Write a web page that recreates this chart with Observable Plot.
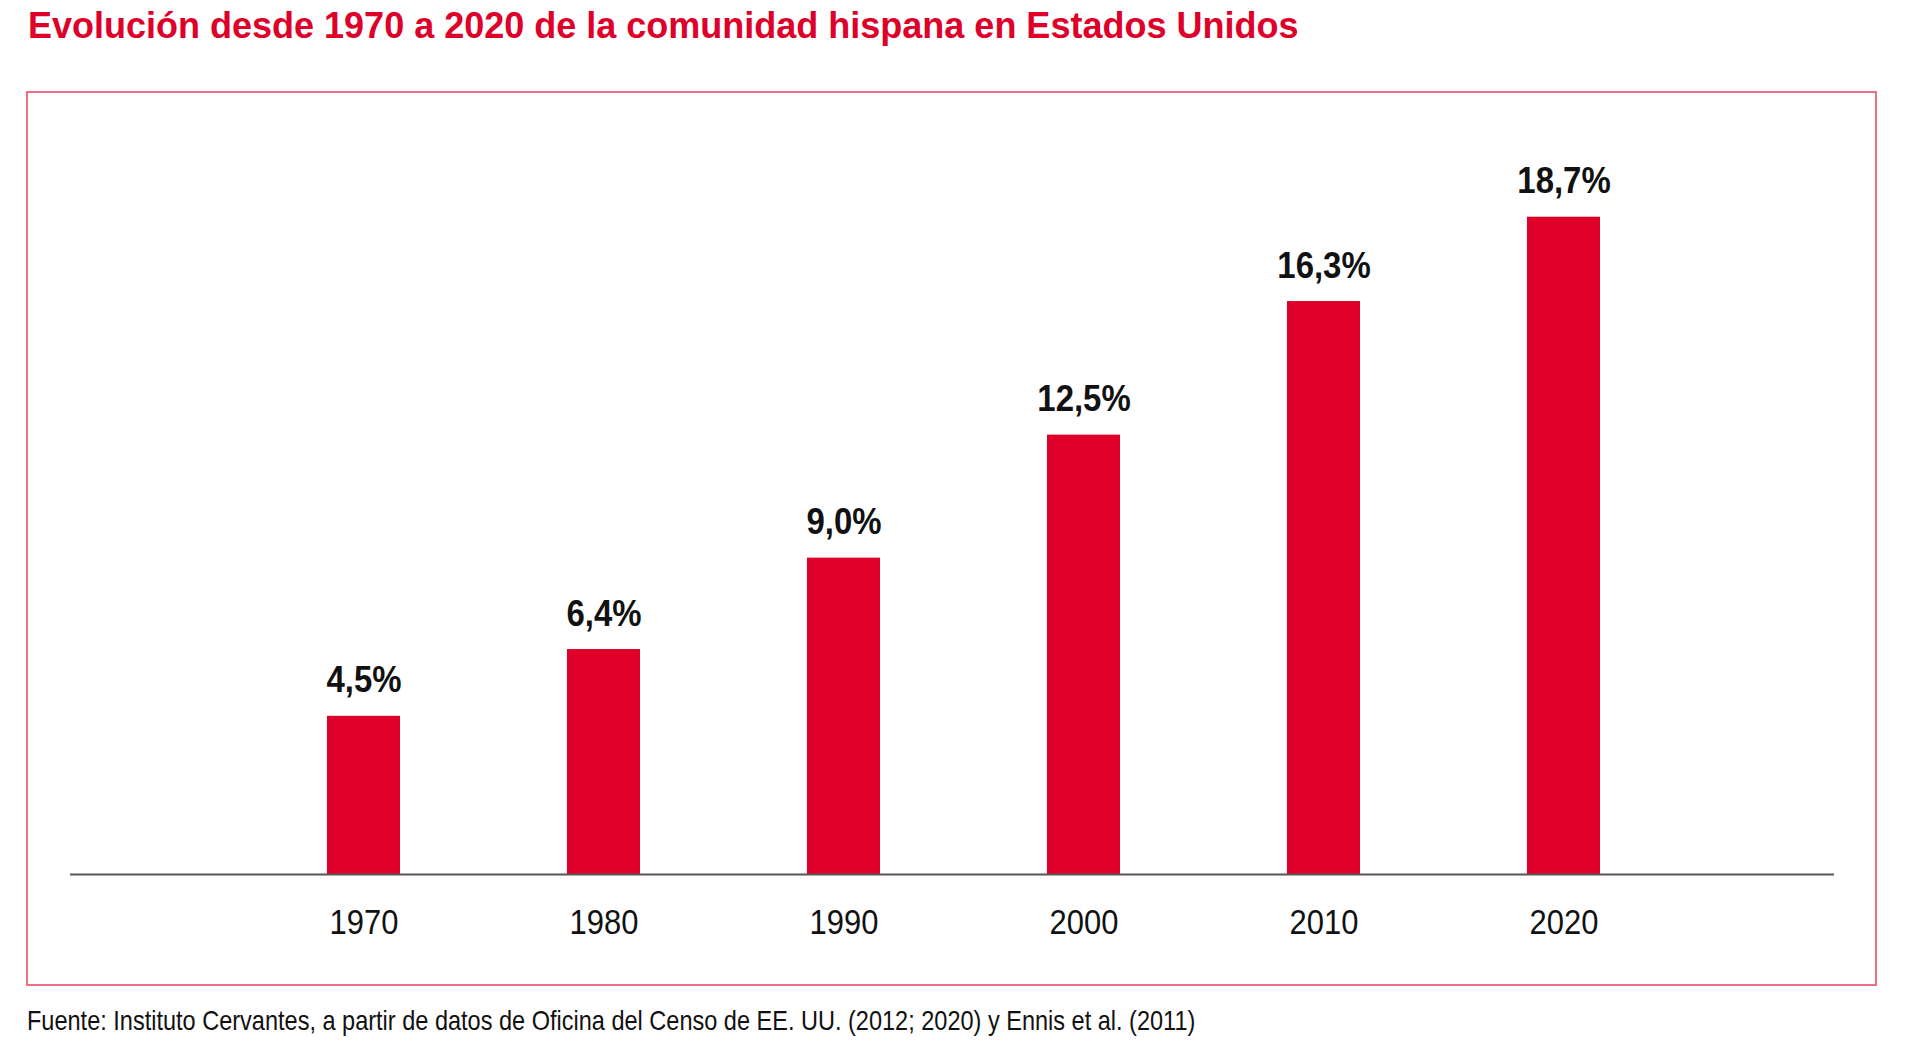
<!DOCTYPE html>
<html lang="es">
<head>
<meta charset="utf-8">
<title>Evolución de la comunidad hispana en Estados Unidos</title>
<script src="https://cdn.jsdelivr.net/npm/d3@7"></script>
<script src="https://cdn.jsdelivr.net/npm/@observablehq/plot@0.6"></script>
<style>
  html, body { margin: 0; padding: 0; background: #ffffff; }
  body { width: 1920px; height: 1063px; position: relative; overflow: hidden;
         font-family: "Liberation Sans", Arial, Helvetica, sans-serif; }
  #title { position: absolute; left: 28px; top: 8px; margin: 0; white-space: nowrap;
           font-size: 36px; line-height: 36px; font-weight: bold; color: #de0029; }
  #frame { position: absolute; left: 26px; top: 91px; width: 1847px; height: 891px;
           border: 2px solid #ef6f86; }
  #frame svg { display: block; }
  #source { position: absolute; left: 27px; top: 1007px; margin: 0; white-space: nowrap;
            font-size: 28px; line-height: 28px; color: #111;
            transform: scaleX(0.84); transform-origin: 0 0; }
</style>
</head>
<body>
<h1 id="title">Evolución desde 1970 a 2020 de la comunidad hispana en Estados Unidos</h1>
<div id="frame"></div>
<p id="source">Fuente: Instituto Cervantes, a partir de datos de Oficina del Censo de EE. UU. (2012; 2020) y Ennis et al. (2011)</p>
<script>
// Census years and the Hispanic share of the US population (%)
const years = ["1970", "1980", "1990", "2000", "2010", "2020"];
const shares = [4.5, 6.4, 9.0, 12.5, 16.3, 18.7];
const shareLabels = ["4,5%", "6,4%", "9,0%", "12,5%", "16,3%", "18,7%"];

const data = years.map((year, i) => ({year, share: shares[i], label: shareLabels[i]}));

const red = "#de0029";
const font = '"Liberation Sans", Arial, Helvetica, sans-serif';

const chart = Plot.plot({
  width: 1847,
  height: 891,
  marginTop: 78,
  marginBottom: 110,
  marginLeft: 42,
  marginRight: 41,
  style: {fontFamily: font, background: "transparent"},
  x: {domain: years, paddingInner: 0.696, paddingOuter: 1.017, align: 0.5225, label: null},
  y: {domain: [0, 20], axis: null},
  marks: [
    Plot.barY(data, {x: "year", y: "share", fill: red}),
    Plot.ruleY([0], {stroke: "#555", strokeWidth: 2}),
    Plot.text(data, {
      x: "year", y: "share", text: "label",
      lineAnchor: "bottom", dy: -24,
      fontSize: 37, fontWeight: "bold", fill: "#111",
      className: "value-label"
    }),
    Plot.axisX({tickSize: 0, tickPadding: 34, fontSize: 36, color: "#111", label: null,
                className: "year-label"})
  ]
});

// Narrow the glyphs of the labels (condensed look), keeping each one centred
function condense(selector, k) {
  chart.querySelectorAll(selector + " text").forEach((t) => {
    const tr = t.getAttribute("transform") || "";
    t.setAttribute("transform", tr + ` scale(${k},1)`);
  });
}
condense(".value-label", 0.89);
condense(".year-label", 0.86);

document.getElementById("frame").appendChild(chart);
</script>
</body>
</html>
